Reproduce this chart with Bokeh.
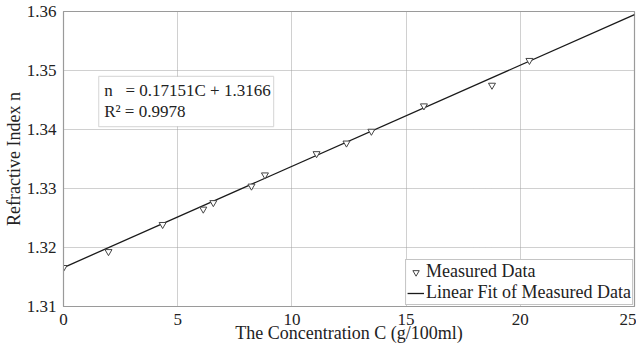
from bokeh.plotting import figure
from bokeh.models import Legend, LegendItem, Label, BoxAnnotation, FixedTicker, CustomJSTickFormatter
from bokeh.embed import file_html
from bokeh.resources import INLINE

# Data
conc = [0.0, 1.97, 4.34, 6.12, 6.56, 8.23, 8.82, 11.08, 12.39, 13.48, 15.78, 18.76, 20.40]
n_meas = [1.3166, 1.3193, 1.3239, 1.3265, 1.3276, 1.3304, 1.3323, 1.3359, 1.3377, 1.3397, 1.3440, 1.3475, 1.3517]
fit_slope = 0.0017151
fit_intercept = 1.3166
fit_x = [0.0, 25.0]
fit_y = [fit_intercept + fit_slope * c for c in fit_x]
x_ticks = [0, 5, 10, 15, 20, 25]
y_ticks = [1.31, 1.32, 1.33, 1.34, 1.35, 1.36]
eq_text = "n\u00a0\u00a0\u00a0= 0.17151C + 1.3166"
r2_text = "R\u00b2 = 0.9978"

FONT = "'Liberation Serif', 'Times New Roman', serif"
INK = "#222222"

p = figure(frame_width=571, frame_height=295, x_range=(0, 25), y_range=(1.31, 1.36),
           output_backend="svg", toolbar_location=None,
           min_border_left=54, min_border_right=2, min_border_top=11, min_border_bottom=36)
p.background_fill_color = "white"
p.border_fill_color = "white"
p.outline_line_color = "#9a9a9a"
p.outline_line_width = 1.2

for ax in (p.xaxis, p.yaxis):
    ax.axis_line_color = "#9a9a9a"
    ax.major_tick_line_color = None
    ax.minor_tick_line_color = None
    ax.major_label_text_font_size = "17px"
    ax.major_label_text_color = INK
    ax.axis_label_text_font = FONT
    ax.axis_label_text_font_size = "18px"
    ax.axis_label_text_font_style = "normal"
    ax.axis_label_text_color = INK

p.xaxis.major_label_text_font = "serif"
p.yaxis.major_label_text_font = "Times"

p.xaxis.ticker = FixedTicker(ticks=x_ticks)
p.yaxis.ticker = FixedTicker(ticks=y_ticks)
p.yaxis.formatter = CustomJSTickFormatter(code="return tick.toFixed(2);")
p.xaxis.major_label_standoff = 1
p.yaxis.major_label_standoff = 1
p.xaxis.axis_label = "The Concentration C (g/100ml)"
p.yaxis.axis_label = "Refractive Index n"
p.xaxis.axis_label_standoff = -5
p.yaxis.axis_label_standoff = 0

p.grid.grid_line_color = "#a0a0a0"
p.grid.grid_line_dash = "1 1"
p.grid.grid_line_width = 1

line = p.line(fit_x, fit_y, line_color="#1a1a1a", line_width=1.3)
pts = p.scatter(conc, n_meas, marker="inverted_triangle", size=7,
                line_color="#444444", fill_color="white", line_width=1)

legend = Legend(items=[LegendItem(label="Measured Data", renderers=[pts]),
                       LegendItem(label="Linear Fit of Measured Data", renderers=[line])],
                location="bottom_right")
legend.label_text_font = FONT
legend.label_text_font_size = "18px"
legend.label_text_color = INK
legend.border_line_color = "#8a8a8a"
legend.border_line_width = 1
legend.background_fill_alpha = 1
legend.glyph_width = 17
legend.glyph_height = 16
legend.label_height = 16
legend.label_standoff = 2
legend.padding = 1
legend.spacing = 0
legend.margin = 1
p.add_layout(legend)

box = BoxAnnotation(left=1.54, right=9.2, bottom=1.3405, top=1.3490,
                    fill_color="white", fill_alpha=1, line_color="#8a8a8a", line_width=1.2)
p.add_layout(box)
p.add_layout(Label(x=1.78, y=1.3466, text=eq_text, text_font=FONT, text_font_size="17px",
                   text_color=INK, text_baseline="middle"))
p.add_layout(Label(x=1.78, y=1.3430, text=r2_text, text_font=FONT, text_font_size="17px",
                   text_color=INK, text_baseline="middle"))

open("out.html", "w").write(file_html(p, INLINE))
